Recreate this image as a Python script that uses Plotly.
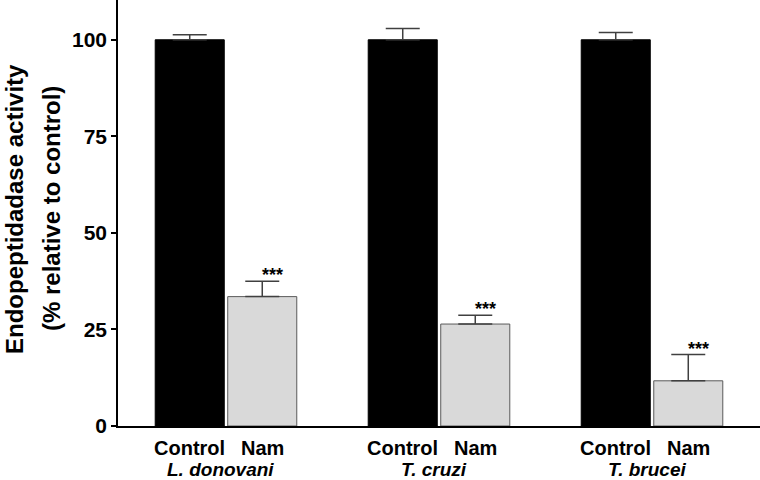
import plotly.graph_objects as go

species = ["L. donovani", "T. cruzi", "T. brucei"]
treatments = ["Control", "Nam"]
control_vals = [100, 100, 100]
control_err = [1.3, 2.9, 1.9]
nam_vals = [33.5, 26.4, 11.7]
nam_err = [4.0, 2.3, 6.8]
sig_labels = ["***", "***", "***"]
y_ticks = [0, 25, 50, 75, 100]

FONT = "Liberation Sans, Arial, sans-serif"
bargap = 0.319
bargroupgap = 0.048
gx = list(range(len(species)))

fig = go.Figure()
fig.add_trace(go.Bar(
    x=gx, y=control_vals, name=treatments[0],
    marker=dict(color="#000000", line=dict(color="#000000", width=1)),
    error_y=dict(type="data", array=control_err, arrayminus=[0]*3, symmetric=False,
                 color="#404040", thickness=1.5, width=17),
))
fig.add_trace(go.Bar(
    x=gx, y=nam_vals, name=treatments[1],
    marker=dict(color="#d9d9d9", line=dict(color="#5a5a5a", width=1)),
    error_y=dict(type="data", array=nam_err, arrayminus=[0]*3, symmetric=False,
                 color="#404040", thickness=1.5, width=17),
))

slot = (1 - bargap) / 2
annotations = []
for i, g in enumerate(gx):
    for j, t in enumerate(treatments):
        xc = g + (j - 0.5) * slot
        annotations.append(dict(x=xc, y=0, xref="x", yref="y", text=f"<b>{t}</b>",
                                showarrow=False, yanchor="middle", yshift=-22,
                                borderpad=0,
                                font=dict(family=FONT, size=20, color="#000")))
    annotations.append(dict(x=g, y=0, xref="x", yref="y", text=f"<b><i>{species[i]}</i></b>",
                            showarrow=False, yanchor="middle", yshift=-43.5, xshift=-5,
                            borderpad=0,
                            font=dict(family=FONT, size=19, color="#000")))
    annotations.append(dict(x=g + 0.5 * slot, y=nam_vals[i] + nam_err[i], xref="x", yref="y",
                            text=f"<b>{sig_labels[i]}</b>", showarrow=False,
                            yanchor="middle", yshift=6, xshift=10,
                            font=dict(family=FONT, size=18, color="#000")))

annotations.append(dict(x=0, y=0.5, xref="paper", yref="paper", xanchor="center",
                        text="<b>Endopeptidadase activity</b>", textangle=-90,
                        showarrow=False, xshift=-104, yshift=4, borderpad=0,
                        font=dict(family=FONT, size=24, color="#000")))
annotations.append(dict(x=0, y=0.5, xref="paper", yref="paper", xanchor="center",
                        text="<b>(% relative to control)</b>", textangle=-90,
                        showarrow=False, xshift=-67, yshift=4, borderpad=0,
                        font=dict(family=FONT, size=24, color="#000")))

fig.update_layout(
    width=760, height=480,
    margin=dict(l=118, r=0, t=0, b=54, autoexpand=False),
    paper_bgcolor="white", plot_bgcolor="white",
    barmode="group", bargap=bargap, bargroupgap=bargroupgap,
    showlegend=False,
    annotations=annotations,
    xaxis=dict(range=[-0.507, 2.507], showticklabels=False, ticks="",
               showgrid=False, zeroline=False, showline=True,
               linecolor="#000", linewidth=1.5, automargin=False),
    yaxis=dict(range=[0, 110.3], tickvals=y_ticks, ticks="outside", ticklen=5,
               tickwidth=1.5, tickcolor="#000", showgrid=False, zeroline=False,
               showline=True, linecolor="#000", linewidth=1.5, automargin=False,
               tickfont=dict(family=FONT, size=21, color="#000", weight="bold")),
)

fig.write_html("out.html", config={"displayModeBar": False},
               post_script="document.body.style.margin='0';document.body.style.overflow='hidden';")
